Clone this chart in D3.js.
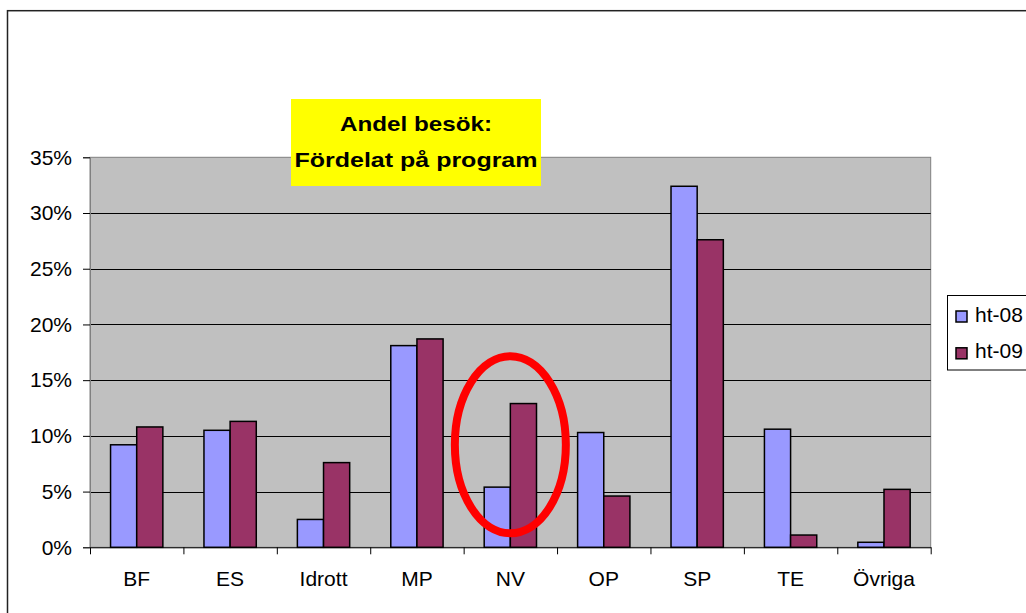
<!DOCTYPE html>
<html>
<head>
<meta charset="utf-8">
<script src="https://cdn.jsdelivr.net/npm/d3@7"></script>
<style>
  html, body { margin: 0; padding: 0; background: #fff; }
  svg { display: block; font-family: Arial, "Liberation Sans", sans-serif; }
</style>
</head>
<body>
<svg id="chart" width="1026" height="613"></svg>
<script>
const categories = ["BF", "ES", "Idrott", "MP", "NV", "OP", "SP", "TE", "Övriga"];
const seriesNames = ["ht-08", "ht-09"];
const ht08 = [0.092, 0.105, 0.025, 0.181, 0.054, 0.103, 0.324, 0.106, 0.0045];
const ht09 = [0.108, 0.113, 0.076, 0.187, 0.129, 0.046, 0.276, 0.011, 0.052];
const yTicks = [0, 0.05, 0.10, 0.15, 0.20, 0.25, 0.30, 0.35];
const titleLines = ["Andel besök:", "Fördelat på program"];
const highlight = { category: "NV", value: 0.092 };

const colors = { "ht-08": "#9999FF", "ht-09": "#993366" };
const seriesValues = { "ht-08": ht08, "ht-09": ht09 };

const svg = d3.select("#chart");
const W = 1026, H = 613;
const plot = { left: 90, right: 930.7, top: 157.3, bottom: 547.3 };

svg.append("rect").attr("width", W).attr("height", H).attr("fill", "#fff");

// outer chart frame
svg.append("rect")
  .attr("x", 7.5).attr("y", 10.7).attr("width", W + 20).attr("height", H + 20)
  .attr("fill", "none").attr("stroke", "#222").attr("stroke-width", 1.5);

const x = d3.scaleBand().domain(categories).range([plot.left, plot.right]).paddingInner(0).paddingOuter(0);
const y = d3.scaleLinear().domain([0, 0.35]).range([plot.bottom, plot.top]);
const bw = x.bandwidth() * 0.28;
const xs = d3.scaleBand().domain(seriesNames).range([x.bandwidth() / 2 - bw, x.bandwidth() / 2 + bw]);

// plot background
svg.append("rect")
  .attr("x", plot.left).attr("y", plot.top)
  .attr("width", plot.right - plot.left).attr("height", plot.bottom - plot.top)
  .attr("fill", "#C0C0C0").attr("stroke", "#808080").attr("stroke-width", 1);

// gridlines
svg.append("g").selectAll("line")
  .data(yTicks.filter(d => d > 0 && d < 0.35))
  .join("line")
  .attr("x1", plot.left).attr("x2", plot.right)
  .attr("y1", d => Math.round(y(d)) + 0.5).attr("y2", d => Math.round(y(d)) + 0.5)
  .attr("stroke", "#000").attr("stroke-width", 1);

// y axis
const yAxis = svg.append("g")
  .attr("transform", `translate(${plot.left},0)`)
  .call(d3.axisLeft(y).tickValues(yTicks).tickFormat(d3.format(".0%")).tickSize(7).tickPadding(11));
yAxis.select(".domain").attr("stroke", "#808080");
yAxis.selectAll(".tick line").attr("stroke", "#000");
yAxis.selectAll(".tick text")
  .attr("font-size", "21px").attr("fill", "#000")
  .attr("font-family", "Arial, 'Liberation Sans', sans-serif");

// x axis boundary ticks
const xi = d3.scaleLinear().domain([0, categories.length]).range([plot.left, plot.right]);
const xTickAxis = svg.append("g")
  .attr("transform", `translate(0,${plot.bottom})`)
  .call(d3.axisBottom(xi).tickValues(d3.range(categories.length + 1)).tickFormat("").tickSize(7).tickSizeOuter(0));
xTickAxis.select(".domain").attr("stroke", "#000");
xTickAxis.selectAll(".tick line").attr("stroke", "#000");

// x labels
const xLab = svg.append("g")
  .attr("transform", `translate(0,${plot.bottom})`)
  .call(d3.axisBottom(x).tickSize(0).tickPadding(24));
xLab.select(".domain").remove();
xLab.selectAll(".tick text")
  .attr("font-size", "21px").attr("fill", "#000")
  .attr("font-family", "Arial, 'Liberation Sans', sans-serif");

// bars
const groups = svg.append("g").selectAll("g")
  .data(categories)
  .join("g")
  .attr("transform", d => `translate(${x(d)},0)`);
groups.selectAll("rect")
  .data((c, i) => seriesNames.map(s => ({ s, v: seriesValues[s][i] })))
  .join("rect")
  .attr("x", d => xs(d.s))
  .attr("width", xs.bandwidth())
  .attr("y", d => y(d.v))
  .attr("height", d => y(0) - y(d.v))
  .attr("fill", d => colors[d.s])
  .attr("stroke", "#000").attr("stroke-width", 1.5);

// red highlight ellipse
svg.append("ellipse")
  .attr("cx", x(highlight.category) + x.bandwidth() / 2)
  .attr("cy", y(highlight.value))
  .attr("rx", 55.5).attr("ry", 88.5)
  .attr("fill", "none").attr("stroke", "#FF0000").attr("stroke-width", 8);

// title box
svg.append("rect")
  .attr("x", 291).attr("y", 99).attr("width", 250).attr("height", 87)
  .attr("fill", "#FFFF00");
const tWidths = [152, 243];
const tBase = [130.7, 167.3];
svg.append("g").selectAll("text")
  .data(titleLines)
  .join("text")
  .attr("x", 416).attr("y", (d, i) => tBase[i])
  .attr("text-anchor", "middle")
  .attr("font-size", "21px").attr("font-weight", "bold").attr("fill", "#000")
  .attr("textLength", (d, i) => tWidths[i]).attr("lengthAdjust", "spacingAndGlyphs")
  .text(d => d);

// legend
const lg = svg.append("g");
lg.append("rect")
  .attr("x", 947.5).attr("y", 295.5).attr("width", 100).attr("height", 74.5)
  .attr("fill", "#fff").attr("stroke", "#000").attr("stroke-width", 1);
const li = lg.selectAll("g.item").data(seriesNames).join("g").attr("class", "item")
  .attr("transform", (d, i) => `translate(0,${i * 36.8})`);
li.append("rect")
  .attr("x", 956).attr("y", 311).attr("width", 11).attr("height", 11)
  .attr("fill", d => colors[d]).attr("stroke", "#000").attr("stroke-width", 1.5);
li.append("text")
  .attr("x", 975).attr("y", 321.7)
  .attr("font-size", "21px").attr("fill", "#000")
  .text(d => d);
</script>
</body>
</html>
